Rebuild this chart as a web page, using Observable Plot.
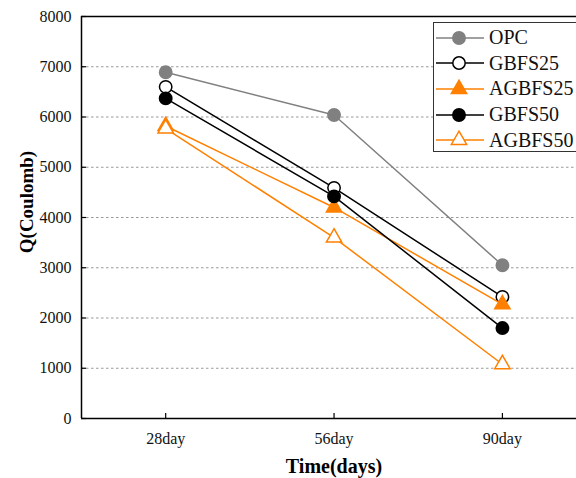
<!DOCTYPE html>
<html>
<head>
<meta charset="utf-8">
<script src="https://cdn.jsdelivr.net/npm/d3@7"></script>
<script src="https://cdn.jsdelivr.net/npm/@observablehq/plot@0.6"></script>
<style>
  body { margin: 0; background: white; }
  #wrap { position: relative; width: 576px; height: 478px; overflow: hidden; font-family: "Liberation Serif", "Times New Roman", serif; }
  #legend { position: absolute; left: 433px; top: 22px; width: 160px; height: 130px; border: 1px solid #333; background: white; box-sizing: border-box; padding-top: 2px; }
  .row { display: flex; align-items: center; height: 25.6px; font-size: 20px; color: #111; }
  .row svg { margin-left: 1px; margin-right: 5px; }
</style>
</head>
<body>
<div id="wrap"></div>
<script>
const days = ["28day", "56day", "90day"];
const seriesNames = ["OPC", "GBFS25", "AGBFS25", "GBFS50", "AGBFS50"];
const opc = [6890, 6040, 3050];
const gbfs25 = [6600, 4590, 2420];
const agbfs25 = [5820, 4200, 2270];
const gbfs50 = [6370, 4420, 1800];
const agbfs50 = [5770, 3600, 1080];
const yTicks = [0, 1000, 2000, 3000, 4000, 5000, 6000, 7000, 8000];
const gridTicks = [1000, 2000, 3000, 4000, 5000, 6000, 7000];

const values = [opc, gbfs25, agbfs25, gbfs50, agbfs50];
const strokes = ["#808080", "#000000", "#ff8000", "#000000", "#ff8000"];
const fills = ["#808080", "#ffffff", "#ff8000", "#000000", "#ffffff"];
const symbols = ["circle", "circle", "triangle", "circle", "triangle"];

const marks = [];
marks.push(Plot.gridY(gridTicks, {stroke: "#999", strokeOpacity: 1, strokeDasharray: "2.5,2.5", strokeWidth: 1}));
values.forEach((vals, s) => {
  const data = vals.map((v, i) => ({i, v}));
  marks.push(Plot.line(data, {x: "i", y: "v", stroke: strokes[s], strokeWidth: 1.5}));
  marks.push(Plot.dot(data, {
    x: "i", y: "v", symbol: () => symbols[s],
    r: symbols[s] === "circle" ? 6.2 : 5.7,
    fill: fills[s], stroke: strokes[s], strokeWidth: 1.5
  }));
});
marks.push(Plot.ruleY([0, 8000], {stroke: "#000", strokeWidth: 1.5}));
marks.push(Plot.ruleX([-0.5], {stroke: "#000", strokeWidth: 1.5}));
marks.push(Plot.axisY(yTicks, {tickSize: -5, tickPadding: 15, fontSize: 16, stroke: "#000", strokeWidth: 1.2, tickFormat: d3.format("d"), label: null}));
marks.push(Plot.axisX([0, 1, 2], {tickSize: -5, tickPadding: 19, fontSize: 16, stroke: "#000", strokeWidth: 1.2, tickFormat: i => days[i], label: null}));

const chart = Plot.plot({
  width: 576,
  height: 478,
  marginTop: 16,
  marginBottom: 60,
  marginLeft: 81,
  marginRight: 0,
  style: {fontFamily: "Liberation Serif", fontSize: "16px", color: "#111", background: "white"},
  x: {type: "linear", domain: [-0.5, 2.44]},
  y: {domain: [0, 8000]},
  marks
});

const svg = d3.select(chart);
svg.append("text")
  .attr("transform", "translate(29,202) rotate(-90)")
  .attr("text-anchor", "middle")
  .attr("dominant-baseline", "middle")
  .attr("font-weight", "bold")
  .attr("font-size", 19)
  .attr("fill", "#000")
  .text("Q(Coulomb)");
svg.append("text")
  .attr("x", 334)
  .attr("y", 468)
  .attr("text-anchor", "middle")
  .attr("dominant-baseline", "middle")
  .attr("font-weight", "bold")
  .attr("font-size", 20)
  .attr("fill", "#000")
  .text("Time(days)");

const wrap = document.getElementById("wrap");
wrap.appendChild(chart);

const legend = d3.select(wrap).append("div").attr("id", "legend");
seriesNames.forEach((name, s) => {
  const row = legend.append("div").attr("class", "row");
  const sv = row.append("svg").attr("width", 49).attr("height", 24);
  sv.append("line").attr("x1", 1).attr("x2", 49).attr("y1", 12).attr("y2", 12)
    .attr("stroke", strokes[s]).attr("stroke-width", 1.5);
  const sym = symbols[s] === "circle" ? d3.symbolCircle : d3.symbolTriangle;
  const size = symbols[s] === "circle" ? Math.PI * 6.2 * 6.2 : Math.PI * 5.7 * 5.7;
  sv.append("path").attr("d", d3.symbol(sym, size)()).attr("transform", "translate(24,12)")
    .attr("fill", fills[s]).attr("stroke", strokes[s]).attr("stroke-width", 1.5);
  row.append("span").text(name);
});
</script>
</body>
</html>
